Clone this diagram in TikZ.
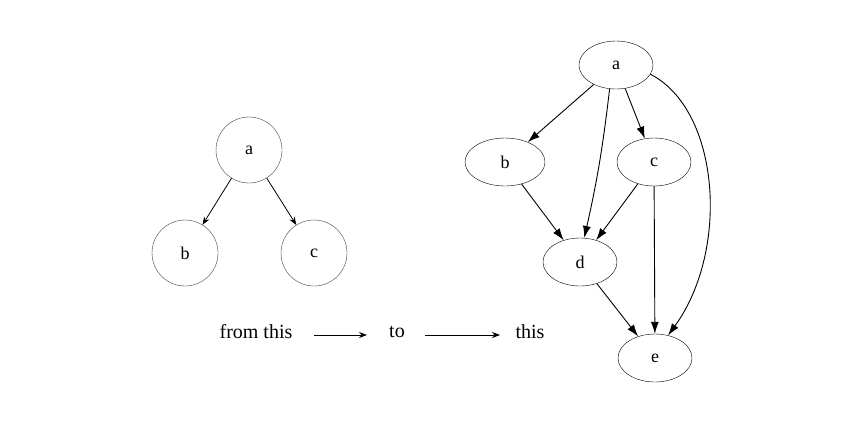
\documentclass[tikz,border=0pt]{standalone}
\usepackage{fontspec}
\setmainfont{Liberation Serif}
\usetikzlibrary{arrows.meta}
\begin{document}
\begin{tikzpicture}[x=1pt,y=-1pt,
  circ/.style={circle,draw=black!75,minimum size=66pt,inner sep=0pt,font=\fontsize{18}{20}\selectfont},
  ell/.style={ellipse,draw,minimum width=76pt,minimum height=48pt,inner sep=0pt,font=\fontsize{18}{20}\selectfont},
  lab/.style={font=\fontsize{20}{22}\selectfont,inner sep=0pt},
  thin arr/.style={-{Stealth[length=8pt,width=6pt]},line width=0.8pt},
  g arr/.style={-{Latex[length=12pt,width=8pt]},line width=0.9pt}]
\useasboundingbox (0,0) rectangle (854,421);
\usetikzlibrary{shapes.geometric}
\node[circ] (la) at (249,150) {a};
\node[circ] (lb) at (185,253) {b};
\node[circ] (lc) at (314,253) {c};
\draw[thin arr] (la) -- (lb);
\draw[thin arr] (la) -- (lc);
\node[lab] (t1) at (256,332) {from this};
\node[lab] (t2) at (397,332) {to};
\node[lab] (t3) at (530,332) {this};
\draw[thin arr] (314,335) -- (367,335);
\draw[thin arr] (425,335) -- (500,335);
\node[ell,minimum width=74pt] (a) at (616,65) {a};
\node[ell,minimum width=80pt] (b) at (505,162) {b};
\node[ell,minimum width=74pt] (c) at (654,162) {c};
\node[ell,minimum width=74pt] (d) at (580,262) {d};
\node[ell,minimum width=74pt] (e) at (655,358) {e};
\draw[g arr] (a) -- (b);
\draw[g arr] (a) -- (c);
\draw[g arr] (a.-105) to[bend left=3] (d.80);
\draw[g arr] (a.-15) .. controls (720,110) and (730,250) .. (e.60);
\draw[g arr] (b) -- (d);
\draw[g arr] (c) -- (d);
\draw[g arr] (c) -- (e);
\draw[g arr] (d) -- (e);
\end{tikzpicture}
\end{document}
